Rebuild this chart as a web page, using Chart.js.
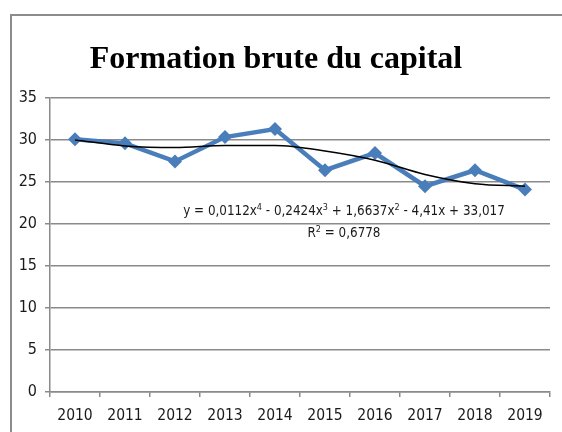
<!DOCTYPE html>
<html>
<head>
<meta charset="utf-8">
<script src="https://cdn.jsdelivr.net/npm/chart.js@4/dist/chart.umd.min.js"></script>
<style>
  html, body { margin: 0; padding: 0; background: #ffffff; }
  #wrap { position: relative; width: 562px; height: 432px; }
</style>
</head>
<body>
<div id="wrap"><canvas id="c" width="562" height="432"></canvas></div>
<script>
const categories = ['2010','2011','2012','2013','2014','2015','2016','2017','2018','2019'];
const capitalValues = [30.1, 29.6, 27.45, 30.35, 31.3, 26.4, 28.45, 24.5, 26.4, 24.1];
const trendValues = [30.0, 29.3, 29.1, 29.35, 29.35, 28.7, 27.6, 25.9, 24.8, 24.5];
const titleText = 'Formation brute du capital';
const equationParts = [
  ['y = 0,0112x', false], ['4', true], [' - 0,2424x', false], ['3', true],
  [' + 1,6637x', false], ['2', true], [' - 4,41x + 33,017', false]
];
const r2Parts = [['R', false], ['2', true], [' = 0,6778', false]];

const NARROW = '"Liberation Sans Narrow", "DejaVu Sans Condensed", "Liberation Sans", sans-serif';
const GRID = '#8a8a8a';

function drawRich(ctx, parts, cx, y, size) {
  const supSize = Math.round(size * 0.65);
  let total = 0;
  const widths = parts.map(([t, sup]) => {
    ctx.font = (sup ? supSize : size) + 'px ' + NARROW;
    const w = ctx.measureText(t).width;
    total += w;
    return w;
  });
  let x = cx - total / 2;
  parts.forEach(([t, sup], i) => {
    ctx.font = (sup ? supSize : size) + 'px ' + NARROW;
    ctx.fillText(t, x, sup ? y - size * 0.38 : y);
    x += widths[i];
  });
}

const decor = {
  id: 'decor',
  beforeDraw(chart) {
    const ctx = chart.ctx;
    ctx.save();
    ctx.strokeStyle = '#8c8c8c';
    ctx.lineWidth = 2;
    ctx.beginPath();
    ctx.moveTo(11, 432);
    ctx.lineTo(11, 15);
    ctx.lineTo(562, 15);
    ctx.stroke();
    ctx.restore();
  },
  afterDraw(chart) {
    const ctx = chart.ctx;
    ctx.save();
    ctx.fillStyle = '#000';
    ctx.textBaseline = 'alphabetic';
    ctx.textAlign = 'center';
    ctx.font = 'bold 32px "Liberation Serif", "Times New Roman", serif';
    ctx.fillText(titleText, 276, 68);
    ctx.textAlign = 'left';
    ctx.fillStyle = '#1a1a1a';
    drawRich(ctx, equationParts, 344, 215, 13.3);
    drawRich(ctx, r2Parts, 344, 237, 13.3);
    ctx.restore();
  }
};

new Chart(document.getElementById('c'), {
  type: 'line',
  data: {
    labels: categories,
    datasets: [
      {
        label: 'Poly.',
        data: trendValues,
        borderColor: '#000000',
        borderWidth: 1.5,
        pointRadius: 0,
        tension: 0.4,
        cubicInterpolationMode: 'monotone',
        fill: false,
        order: 0
      },
      {
        label: 'Formation brute du capital',
        data: capitalValues,
        borderColor: '#4A7EBB',
        backgroundColor: '#4A7EBB',
        borderWidth: 4.5,
        pointStyle: 'rectRot',
        pointRadius: 7,
        pointBorderWidth: 0,
        pointBackgroundColor: '#4A7EBB',
        tension: 0,
        fill: false,
        order: 1
      }
    ]
  },
  options: {
    responsive: false,
    animation: false,
    devicePixelRatio: 1,
    layout: { padding: { left: 0, right: 12, top: 98, bottom: 0 } },
    plugins: {
      legend: { display: false },
      title: { display: false },
      tooltip: { enabled: false }
    },
    scales: {
      x: {
        type: 'category',
        offset: true,
        afterFit(scale) { scale.height = 40; },
        grid: {
          display: true,
          offset: true,
          drawOnChartArea: false,
          drawTicks: true,
          tickLength: 5,
          color: GRID,
          lineWidth: 1.5
        },
        border: { display: true, color: GRID, width: 1.5 },
        ticks: {
          color: '#1a1a1a',
          font: { family: NARROW, size: 15.5 },
          padding: 10,
          maxRotation: 0,
          autoSkip: false
        }
      },
      y: {
        min: 0,
        max: 35,
        afterFit(scale) { scale.width = 50; },
        grid: {
          color: GRID,
          lineWidth: 1.5,
          tickLength: 5,
          drawTicks: true
        },
        border: { display: true, color: GRID, width: 1.5 },
        ticks: {
          stepSize: 5,
          color: '#1a1a1a',
          font: { family: NARROW, size: 16 },
          padding: 8
        }
      }
    }
  },
  plugins: [decor]
});
</script>
</body>
</html>
